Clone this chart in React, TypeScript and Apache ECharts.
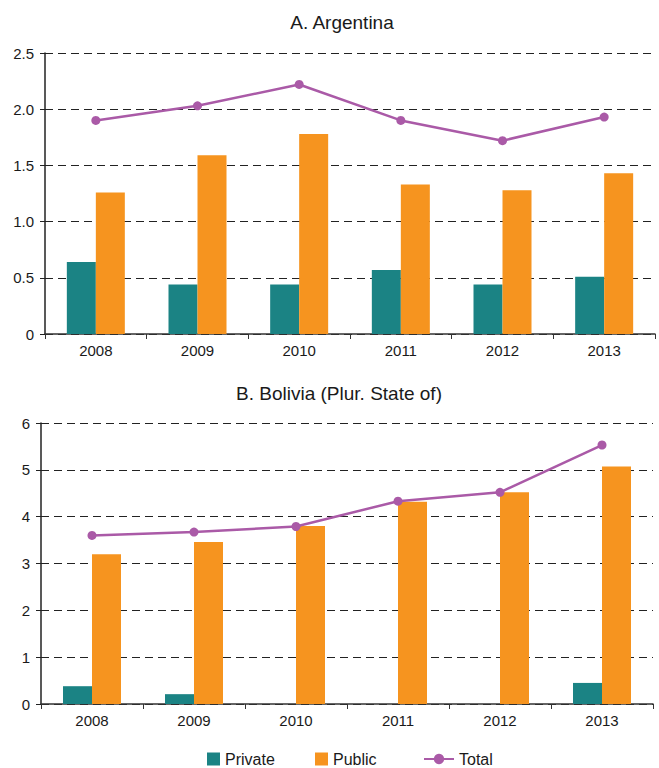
import React, { useEffect, useRef } from "react";
import * as echarts from "echarts";

const years = ["2008", "2009", "2010", "2011", "2012", "2013"];

const argPrivate = [0.64, 0.44, 0.44, 0.57, 0.44, 0.51];
const argPublic = [1.26, 1.59, 1.78, 1.33, 1.28, 1.43];
const argTotal = [1.9, 2.03, 2.22, 1.9, 1.72, 1.93];

const bolPrivate = [0.38, 0.21, 0, 0, 0, 0.45];
const bolPublic = [3.2, 3.46, 3.8, 4.32, 4.52, 5.07];
const bolTotal = [3.6, 3.67, 3.79, 4.33, 4.52, 5.53];

const titles = ["A. Argentina", "B. Bolivia (Plur. State of)"];

const TEAL = "#1b8384";
const ORANGE = "#f6941f";
const PURPLE = "#aa5aa7";
const FONT = "Liberation Sans, Arial, sans-serif";
const TEXT = "#1a1a1a";

export default function App() {
  const ref = useRef<HTMLDivElement>(null);
  useEffect(() => {
    if (!ref.current) return;
    const chart = echarts.init(ref.current, null, { renderer: "svg" });

    const yAxisCommon = (idx: number, max: number, interval: number, dec: number) => ({
      type: "value",
      gridIndex: idx,
      min: 0,
      max,
      interval,
      axisLine: { show: true, lineStyle: { color: "#222", width: 1.5 } },
      axisTick: { show: true, length: 5, lineStyle: { color: "#222" } },
      axisLabel: {
        margin: 11,
        fontSize: 15,
        fontFamily: FONT,
        color: TEXT,
        formatter: (v: number) => (v === 0 ? "0" : v.toFixed(dec)),
      },
      splitLine: {
        show: true,
        lineStyle: { color: "#222", type: [8, 5], width: 1 },
      },
    });

    const xAxisCommon = (idx: number) => ({
      type: "category",
      gridIndex: idx,
      data: years,
      axisLine: { show: true, lineStyle: { color: "#333", width: 1.5 } },
      axisTick: { show: true, length: 5, inside: false, lineStyle: { color: "#333" } },
      axisLabel: { margin: 9, fontSize: 15, fontFamily: FONT, color: TEXT },
      splitLine: { show: false },
    });

    const barSeries = (name: string, data: number[], color: string, idx: number) => ({
      name,
      type: "bar",
      xAxisIndex: idx,
      yAxisIndex: idx,
      data,
      barWidth: 29,
      barGap: "0%",
      itemStyle: { color },
    });

    const lineSeries = (data: number[], idx: number) => ({
      name: "Total",
      type: "line",
      xAxisIndex: idx,
      yAxisIndex: idx,
      data,
      symbol: "circle",
      symbolSize: 9,
      lineStyle: { color: PURPLE, width: 2.5 },
      itemStyle: { color: PURPLE },
      z: 5,
    });

    const legendText = { fontSize: 16, fontFamily: FONT, color: TEXT };

    chart.setOption({
      animation: false,
      backgroundColor: "#fff",
      title: [
        {
          text: titles[0],
          left: 337,
          top: 8,
          textAlign: "center",
          textStyle: { fontSize: 19, fontWeight: "normal", fontFamily: FONT, color: TEXT },
        },
        {
          text: titles[1],
          left: 334,
          top: 379,
          textAlign: "center",
          textStyle: { fontSize: 19, fontWeight: "normal", fontFamily: FONT, color: TEXT },
        },
      ],
      legend: [
        {
          data: ["Private"],
          left: 207,
          top: 751,
          icon: "rect",
          itemWidth: 13,
          itemHeight: 13,
          itemGap: 5,
          textStyle: legendText,
          padding: 0,
        },
        {
          data: ["Public"],
          left: 315,
          top: 751,
          icon: "rect",
          itemWidth: 13,
          itemHeight: 13,
          textStyle: legendText,
          padding: 0,
        },
        {
          data: ["Total"],
          left: 423,
          top: 751,
          itemWidth: 30,
          itemHeight: 13,
          textStyle: legendText,
          padding: 0,
        },
      ],
      grid: [
        { left: 45, right: 4, top: 53, height: 281 },
        { left: 41, right: 6, top: 423, height: 281 },
      ],
      xAxis: [xAxisCommon(0), xAxisCommon(1)],
      yAxis: [yAxisCommon(0, 2.5, 0.5, 1), yAxisCommon(1, 6, 1, 0)],
      series: [
        barSeries("Private", argPrivate, TEAL, 0),
        barSeries("Public", argPublic, ORANGE, 0),
        lineSeries(argTotal, 0),
        barSeries("Private", bolPrivate, TEAL, 1),
        barSeries("Public", bolPublic, ORANGE, 1),
        lineSeries(bolTotal, 1),
      ],
    });
    return () => chart.dispose();
  }, []);

  return (
    <div
      ref={ref}
      style={{ position: "fixed", left: 0, top: 0, width: 659, height: 768, background: "#fff" }}
    />
  );
}
